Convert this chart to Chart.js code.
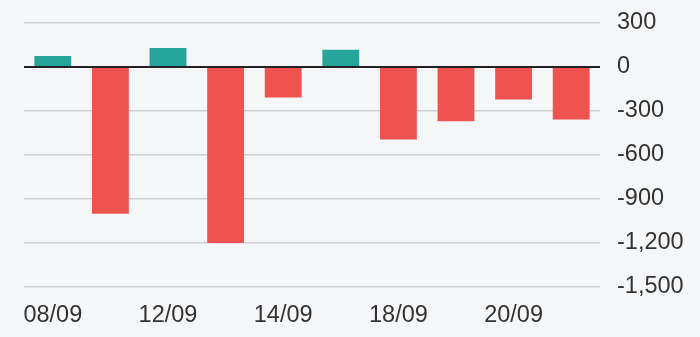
<!DOCTYPE html>
<html>
<head>
<meta charset="utf-8">
<script src="https://cdn.jsdelivr.net/npm/chart.js@4/dist/chart.umd.min.js"></script>
<style>
  html, body { margin: 0; padding: 0; background: #f5f6f8; }
  #wrap { width: 700px; height: 337px; position: relative; }
</style>
</head>
<body>
<div id="wrap"><canvas id="canvas"></canvas></div>
<script>
// dates and daily net values
let labels = ["08/09", "11/09", "12/09", "13/09", "14/09", "15/09", "18/09", "19/09", "20/09", "21/09"];
let values = [75, -1000, 130, -1200, -208, 118, -495, -370, -222, -358];
let yTicks = [300, 0, -300, -600, -900, -1200, -1500];

let green = "#26a69a";
let red = "#ef5350";

let bgColors = values.map(v => v >= 0 ? green : red);

let ctx = document.getElementById("canvas").getContext("2d");
let grafica = new Chart(ctx, {
  type: "bar",
  data: {
    labels: labels,
    datasets: [{
      data: values,
      backgroundColor: bgColors,
      borderWidth: 0,
      categoryPercentage: 0.8,
      barPercentage: 0.8
    }]
  },
  options: {
    responsive: true,
    maintainAspectRatio: false,
    animation: false,
    layout: { padding: { left: 24, top: 0, bottom: 0, right: 0 } },
    plugins: {
      legend: { display: false },
      tooltip: { enabled: false }
    },
    scales: {
      x: {
        grid: { display: false, drawTicks: false },
        border: { display: false },
        afterFit: (axis) => { axis.height = 50; axis.paddingLeft = 0; axis.paddingRight = 0; },
        ticks: {
          color: "#333",
          font: { family: "Liberation Sans", size: 23.5 },
          maxRotation: 0,
          autoSkip: true,
          padding: 14
        }
      },
      y: {
        position: "right",
        min: Math.min(...yTicks),
        max: Math.max(...yTicks),
        afterBuildTicks: (axis) => { axis.ticks = yTicks.map(v => ({ value: v })); },
        afterFit: (axis) => { axis.width = 100; axis.paddingTop = 23; axis.paddingBottom = 0; },
        grid: {
          drawTicks: false,
          color: (c) => c.tick && c.tick.value === 0 ? "#222" : "#cfd0d3",
          lineWidth: (c) => c.tick && c.tick.value === 0 ? 2 : 1.5
        },
        border: { display: false },
        ticks: {
          color: "#333",
          font: { family: "Liberation Sans", size: 23.5 },
          padding: 17,
          callback: (v) => v.toLocaleString("en-US")
        }
      }
    }
  }
});
</script>
</body>
</html>
